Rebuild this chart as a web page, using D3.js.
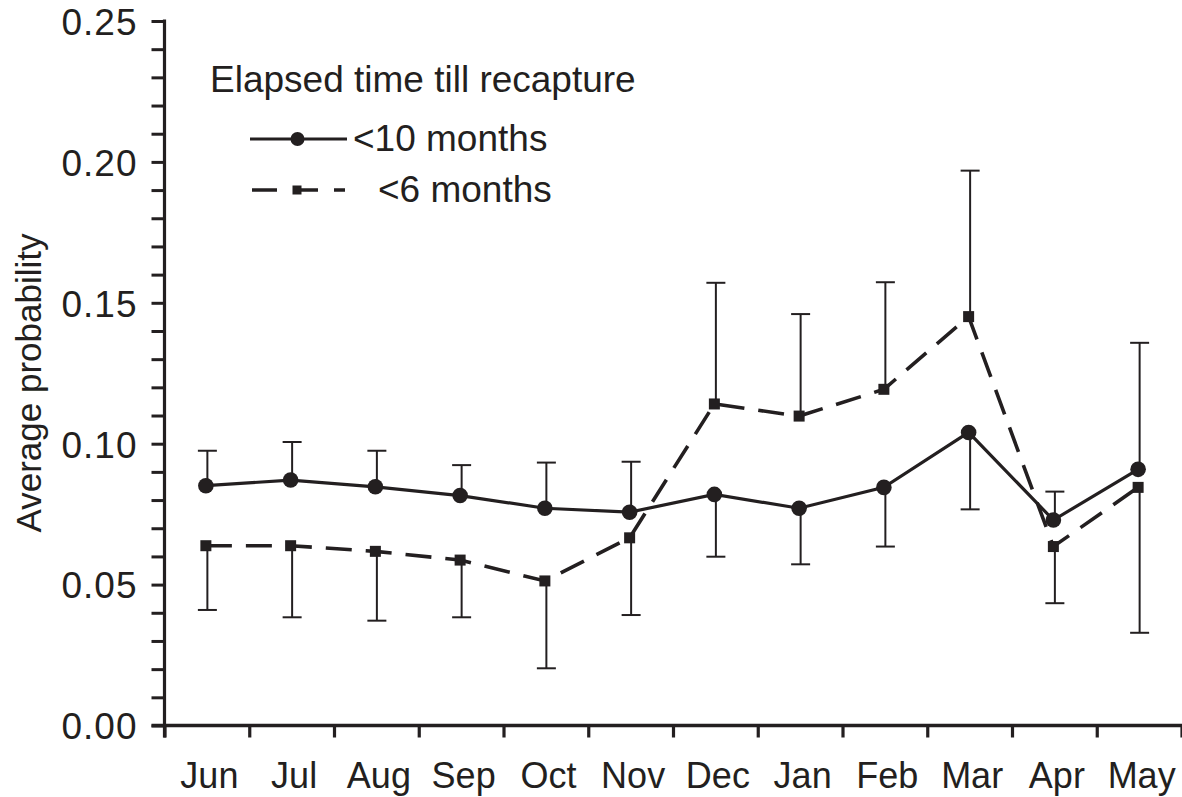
<!DOCTYPE html>
<html>
<head>
<meta charset="utf-8">
<script src="https://cdn.jsdelivr.net/npm/d3@7/dist/d3.min.js"></script>
<style>
  html, body { margin: 0; padding: 0; background: #fff; }
  svg { display: block; }
  text { font-family: "Liberation Sans", Arial, sans-serif; fill: #231f20; }
</style>
</head>
<body>
<svg id="chart" width="1182" height="797"></svg>
<script>
// ---- data ----
const months = ["Jun","Jul","Aug","Sep","Oct","Nov","Dec","Jan","Feb","Mar","Apr","May"];
const tenMonths = [0.0851,0.0871,0.0847,0.0816,0.0771,0.0757,0.0820,0.0771,0.0845,0.1040,0.0729,0.0909];
const tenMonthsErr = [0.0975,0.1006,0.0975,0.0924,0.0933,0.0936,0.0599,0.0572,0.0635,0.0767,0.0830,0.1358];
const sixMonths = [0.0638,0.0638,0.0618,0.0587,0.0513,0.0666,0.1141,0.1098,0.1193,0.1451,0.0635,0.0845];
const sixMonthsErr = [0.0410,0.0384,0.0372,0.0384,0.0203,0.0392,0.1571,0.1460,0.1573,0.1969,0.0434,0.0329];
const yMajorTicks = [0, 0.05, 0.10, 0.15, 0.20, 0.25];
const yMinorTicks = d3.range(0, 26).map(i => i / 100);
const yTitle = "Average probability";
const legendTitle = "Elapsed time till recapture";
const seriesNames = ["<10 months", "<6 months"];

const ink = "#231f20";
const svg = d3.select("#chart");
svg.append("rect").attr("width",1182).attr("height",797).attr("fill","#fff");

const x = d3.scaleBand().domain(months).range([165, 1182]);
const y = d3.scaleLinear().domain([0, 0.25]).range([725.5, 21]);
const cx = m => x(m) + x.bandwidth() / 2;

// ---- y axis ----
const yAxis = d3.axisLeft(y)
  .tickValues(yMinorTicks)
  .tickSize(13)
  .tickSizeOuter(0)
  .tickPadding(14)
  .tickFormat(d => yMajorTicks.some(t => Math.abs(t - d) < 1e-9) ? d3.format(".2f")(d) : "");
const gy = svg.append("g").attr("transform", "translate(164.5,0)").call(yAxis);
gy.select(".domain").remove();
gy.selectAll(".tick line").attr("stroke", ink).attr("stroke-width", 3);
gy.selectAll(".tick text").attr("font-size", 37).attr("fill", ink)
  .attr("letter-spacing", 1)
  .attr("font-family", "Liberation Sans, Arial, sans-serif").attr("dy", "0.36em");
svg.append("line").attr("x1",164.5).attr("x2",164.5)
  .attr("y1", y(0.25) - 1.5).attr("y2", y(0) + 12)
  .attr("stroke", ink).attr("stroke-width", 3.2);

// ---- x axis ----
svg.append("line").attr("x1",151.5).attr("x2",1182)
  .attr("y1", y(0)).attr("y2", y(0))
  .attr("stroke", ink).attr("stroke-width", 3.5);
const boundaries = months.map(m => x(m)).concat([x.range()[1]]);
svg.append("g").selectAll("line").data(boundaries).join("line")
  .attr("x1", d => d).attr("x2", d => d)
  .attr("y1", y(0)).attr("y2", y(0) + 12)
  .attr("stroke", ink).attr("stroke-width", 3.2);
const xAxis = d3.axisBottom(x).tickSize(0).tickPadding(0);
const gx = svg.append("g").attr("transform", `translate(2,${y(0)})`).call(xAxis);
gx.select(".domain").remove();
gx.selectAll(".tick text").attr("font-size", 36).attr("fill", ink)
  .attr("font-family", "Liberation Sans, Arial, sans-serif")
  .attr("y", 62.5).attr("dy", 0);

// ---- y title ----
svg.append("text").attr("transform", "translate(41,383) rotate(-90)")
  .attr("text-anchor", "middle").attr("font-size", 35).text(yTitle);

// ---- error bars ----
function errorBars(vals, errs) {
  const g = svg.append("g");
  months.forEach((m, i) => {
    const xm = cx(m);
    g.append("line").attr("x1", xm).attr("x2", xm)
      .attr("y1", y(vals[i])).attr("y2", y(errs[i]))
      .attr("stroke", ink).attr("stroke-width", 2);
    g.append("line").attr("x1", xm - 9.5).attr("x2", xm + 9.5)
      .attr("y1", y(errs[i])).attr("y2", y(errs[i]))
      .attr("stroke", ink).attr("stroke-width", 2);
  });
}
errorBars(tenMonths, tenMonthsErr);
errorBars(sixMonths, sixMonthsErr);

// ---- lines ----
const px = m => cx(m) - 1.5;
const line = d3.line().x((d, i) => px(months[i])).y(d => y(d));
svg.append("path").datum(sixMonths).attr("d", line)
  .attr("fill", "none").attr("stroke", ink).attr("stroke-width", 3.6)
  .attr("stroke-dasharray", "26,14");
svg.append("path").datum(tenMonths).attr("d", line)
  .attr("fill", "none").attr("stroke", ink).attr("stroke-width", 3.2);

// ---- markers ----
svg.append("g").selectAll("rect").data(sixMonths).join("rect")
  .attr("x", (d, i) => px(months[i]) - 5.5).attr("y", d => y(d) - 5.5)
  .attr("width", 11).attr("height", 11).attr("fill", ink);
svg.append("g").selectAll("circle").data(tenMonths).join("circle")
  .attr("cx", (d, i) => px(months[i])).attr("cy", d => y(d))
  .attr("r", 7.8).attr("fill", ink);

// ---- legend ----
const lg = svg.append("g");
lg.append("text").attr("x", 210).attr("y", 92).attr("font-size", 37).text(legendTitle);
lg.append("line").attr("x1", 250).attr("x2", 347).attr("y1", 139).attr("y2", 139)
  .attr("stroke", ink).attr("stroke-width", 3.2);
lg.append("circle").attr("cx", 297.5).attr("cy", 139).attr("r", 7).attr("fill", ink);
lg.append("text").attr("x", 353).attr("y", 151).attr("font-size", 37).text(seriesNames[0]);
lg.append("line").attr("x1", 252).attr("x2", 345).attr("y1", 190).attr("y2", 190)
  .attr("stroke", ink).attr("stroke-width", 3.6).attr("stroke-dasharray", "25,16");
lg.append("rect").attr("x", 292.5).attr("y", 185.5).attr("width", 9).attr("height", 9).attr("fill", ink);
lg.append("text").attr("x", 378).attr("y", 202).attr("font-size", 37).text(seriesNames[1]);
</script>
</body>
</html>
